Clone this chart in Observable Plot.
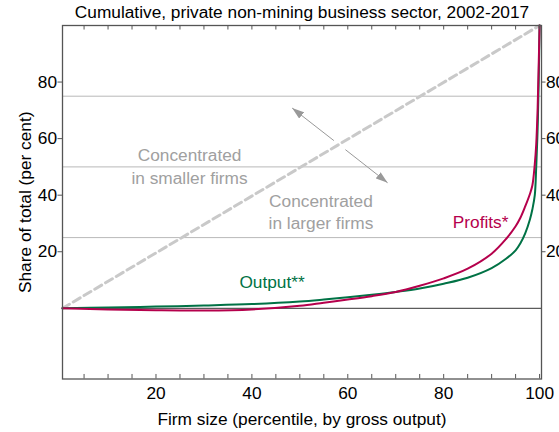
<!DOCTYPE html>
<html>
<head>
<meta charset="utf-8">
<script src="https://cdn.jsdelivr.net/npm/d3@7"></script>
<script src="https://cdn.jsdelivr.net/npm/@observablehq/plot@0.6"></script>
<style>
  html, body { margin: 0; padding: 0; background: #fff; }
</style>
</head>
<body>
<div id="chart"></div>
<script>
const title = "Cumulative, private non-mining business sector, 2002-2017";
const xLabel = "Firm size (percentile, by gross output)";
const yLabel = "Share of total (per cent)";

const percentile = [0.5, 10, 20, 30, 40, 50, 55, 60, 65, 70, 75, 80, 85, 90, 93, 95, 96, 97, 98, 98.5, 99, 99.3, 99.6, 99.8, 100];
const output =     [0,   0.3, 0.6, 1.0, 1.5, 2.4, 3.1, 3.9, 4.8, 5.8, 7.0, 8.7, 10.8, 14.2, 17.5, 20.5, 23, 26.5, 31.5, 35, 40, 50, 64, 79, 100];
const profits =    [0,  -0.4, -0.7, -0.8, -0.4, 0.9, 2.0, 3.1, 4.3, 5.8, 8.0, 10.6, 14.0, 19.3, 24.5, 29, 32, 36, 40.5, 43.5, 51, 58, 71, 85, 100];

const equality = [[0.5, 0], [100, 100]];
const gridValues = [25, 50, 75];
const yTicks = [20, 40, 60, 80];
const xTickLabels = [20, 40, 60, 80, 100];
const xMinorTicks = [5, 10, 15, 20, 25, 30, 35, 40, 45, 50, 55, 60, 65, 70, 75, 80, 85, 90, 95, 100];

const annotations = [
  {x: 27.0, y: 50.6, text: "Concentrated\nin smaller firms"},
  {x: 54.4, y: 34.5, text: "Concentrated\nin larger firms"}
];
const seriesLabels = [
  {x: 44.2, y: 9.2, text: "Output**", series: "output"},
  {x: 87.7, y: 30.4, text: "Profits*", series: "profits"}
];
const arrowSegments = [
  {x1: 57.1, y1: 59.3, x2: 48.4, y2: 70.8},
  {x1: 59.5, y1: 56.1, x2: 68.3, y2: 44.4}
];

const colors = {output: "#007245", profits: "#b5004c"};
const rows = percentile.map((p, i) => ({p, output: output[i], profits: profits[i]}));

function filledArrow(color) {
  const m = d3.create("svg:marker")
    .attr("viewBox", "0 -4 12 8")
    .attr("refX", 12).attr("refY", 0)
    .attr("markerWidth", 12).attr("markerHeight", 8)
    .attr("markerUnits", "userSpaceOnUse")
    .attr("orient", "auto");
  m.append("path").attr("d", "M0,-4L12,0L0,4Z").attr("fill", color).attr("stroke", "none");
  return m.node();
}

const font = "Arial, 'Liberation Sans', sans-serif";
const fs = 17.3;

const chart = Plot.plot({
  width: 559,
  height: 432,
  marginTop: 25,
  marginBottom: 53.5,
  marginLeft: 62,
  marginRight: 18,
  style: {fontFamily: font, fontSize: fs + "px", color: "#000", background: "#fff"},
  x: {domain: [0.5, 100.4]},
  y: {domain: [-25, 100]},
  marks: [
    Plot.ruleY(gridValues, {stroke: "#b9b9b9", strokeWidth: 1}),
    Plot.ruleY([0], {stroke: "#333", strokeWidth: 1}),
    Plot.line(equality, {x: d => d[0], y: d => d[1], stroke: "#c9c9c9", strokeWidth: 3, strokeDasharray: "8,4.5"}),
    Plot.link(arrowSegments, {x1: "x1", y1: "y1", x2: "x2", y2: "y2", stroke: "#999", strokeWidth: 1, markerEnd: filledArrow}),
    Plot.text(annotations, {x: "x", y: "y", text: "text", fill: "#a0a0a0", fontSize: fs, lineHeight: 1.31, lineAnchor: "middle", textAnchor: "middle"}),
    Plot.line(rows, {x: "p", y: "output", stroke: colors.output, strokeWidth: 2, curve: "catmull-rom"}),
    Plot.line(rows, {x: "p", y: "profits", stroke: colors.profits, strokeWidth: 2, curve: "catmull-rom"}),
    Plot.text(seriesLabels, {x: "x", y: "y", text: "text", fill: d => colors[d.series], fontSize: fs, lineAnchor: "middle", textAnchor: "middle"}),
    Plot.ruleX(xMinorTicks, {x: d => d, y1: -25, y2: -25 + 1.6, stroke: "#555", strokeWidth: 1}),
    Plot.ruleX(xMinorTicks, {x: d => d, y1: 100, y2: 100 - 1.6, stroke: "#555", strokeWidth: 1}),
    Plot.axisX(xTickLabels, {anchor: "bottom", tickSize: 0, tickPadding: 7.5, label: null, fontSize: fs}),
    Plot.axisY(yTicks, {anchor: "left", tickSize: 4.5, tickPadding: 1, label: null, stroke: "#555", fontSize: fs}),
    Plot.axisY(yTicks, {anchor: "right", tickSize: 3.5, tickPadding: 1, label: null, stroke: "#555", fontSize: fs}),
    Plot.frame({stroke: "#555", strokeWidth: 1.3}),
    Plot.text([title], {frameAnchor: "top", dy: -7.5, lineAnchor: "bottom", fontSize: fs, fill: "#000"}),
    Plot.text([xLabel], {frameAnchor: "bottom", dy: 45.5, lineAnchor: "bottom", fontSize: fs, fill: "#000"}),
    Plot.text([yLabel], {frameAnchor: "left", dx: -37, rotate: -90, lineAnchor: "middle", textAnchor: "middle", fontSize: fs, fill: "#000"})
  ]
});
document.getElementById("chart").appendChild(chart);
</script>
</body>
</html>
